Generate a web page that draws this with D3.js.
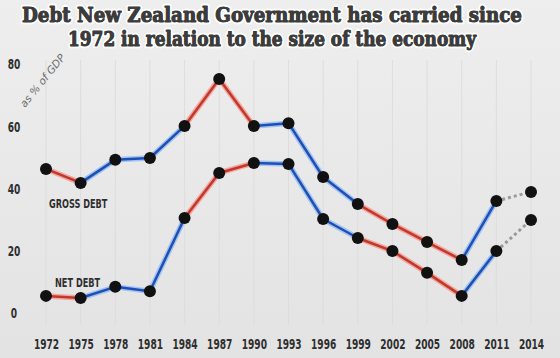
<!DOCTYPE html>
<html><head><meta charset="utf-8">
<script src="https://cdn.jsdelivr.net/npm/d3@7"></script>
<style>
html,body{margin:0;padding:0;background:#e7e7e7;}
svg{display:block;}
.cond{font-family:'DejaVu Sans',sans-serif;font-stretch:condensed;}
</style></head>
<body>
<svg id="c" width="560" height="358"></svg>
<script>
const years = ["1972","1975","1978","1981","1984","1987","1990","1993","1996","1999","2002","2005","2008","2011","2014"];
const grossDebt = [46.3,41.8,49.2,49.8,60.1,75.2,60.1,61.0,43.7,35.0,28.6,22.8,17.0,36.0,38.9];
const netDebt = [5.5,4.8,8.4,7.0,30.5,45.0,48.2,47.9,30.2,24.1,19.9,12.9,5.5,19.9,29.9];
// governing party per segment (start year index -> colour key)
const segmentParty = ["labour","national","national","national","labour","labour","national","national","national","labour","labour","labour","national","forecast"];
const yTicks = [0,20,40,60,80];
const titleLines = ["Debt New Zealand Government has carried since","1972 in relation to the size of the economy"];

const svg = d3.select("#c");
const W = 560, H = 358;
const defs = svg.append("defs");
const grad = defs.append("linearGradient").attr("id","bg").attr("x1",0).attr("y1",0).attr("x2",0).attr("y2",1);
grad.append("stop").attr("offset","0%").attr("stop-color","#eeeeee");
grad.append("stop").attr("offset","100%").attr("stop-color","#e3e3e3");
svg.append("rect").attr("width",W).attr("height",H).attr("fill","url(#bg)");

const x = d3.scalePoint().domain(years).range([46,531]);
const y = d3.scaleLinear().domain([0,80]).range([313,64]);

// faint vertical grid
svg.append("g").selectAll("line").data(years).join("line")
  .attr("x1",d=>x(d)).attr("x2",d=>x(d)).attr("y1",60).attr("y2",325)
  .attr("stroke","#dddddd").attr("stroke-width",1);

const txtCol = "#2e2e2e";

// axes
const yAxis = svg.append("g").attr("transform","translate(14,0)")
  .call(d3.axisLeft(y).tickValues(yTicks).tickSize(0).tickPadding(0));
yAxis.select(".domain").remove();
yAxis.selectAll("text").attr("class","cond").attr("font-size",14).attr("fill",txtCol)
  .attr("font-weight","bold").attr("text-anchor","middle").attr("x",0).attr("y",0).attr("dy","0.35em")
  .attr("transform","scale(0.72,1)");

const xAxis = svg.append("g").attr("transform","translate(0,344)")
  .call(d3.axisBottom(x).tickSize(0).tickPadding(0));
xAxis.select(".domain").remove();
xAxis.selectAll("text").attr("class","cond").attr("font-size",14).attr("fill",txtCol)
  .attr("font-weight","bold").attr("dy","0.35em").attr("y",0).attr("transform","scale(0.72,1)");

const colors = {
  labour:{main:"#c0392b",halo:"#f2a8a2"},
  national:{main:"#1f4fb5",halo:"#a3c4ef"},
  forecast:{main:"#9a9a9a",halo:null}
};

function drawSeries(vals){
  const g = svg.append("g");
  for(let i=0;i<vals.length-1;i++){
    const p = segmentParty[i];
    const c = colors[p];
    const x1 = x(years[i]), y1 = y(vals[i]), x2 = x(years[i+1]), y2 = y(vals[i+1]);
    if(p==="forecast"){
      g.append("line").attr("x1",x1).attr("y1",y1).attr("x2",x2).attr("y2",y2)
        .attr("stroke",c.main).attr("stroke-width",3).attr("stroke-dasharray","3,3");
    } else {
      g.append("line").attr("x1",x1).attr("y1",y1).attr("x2",x2).attr("y2",y2)
        .attr("stroke",c.halo).attr("stroke-width",5.5);
      g.append("line").attr("x1",x1).attr("y1",y1).attr("x2",x2).attr("y2",y2)
        .attr("stroke",c.main).attr("stroke-width",2.5);
    }
  }
  g.selectAll("circle").data(vals).join("circle")
    .attr("cx",(d,i)=>x(years[i])).attr("cy",d=>y(d)).attr("r",6).attr("fill","#111");
}
drawSeries(grossDebt);
drawSeries(netDebt);

// series labels
svg.append("text").attr("class","cond").attr("transform","translate(49,208) scale(0.7,1)").text("GROSS DEBT")
  .attr("font-size",13).attr("font-weight","bold").attr("fill",txtCol);
svg.append("text").attr("class","cond").attr("transform","translate(55,287) scale(0.7,1)").text("NET DEBT")
  .attr("font-size",13).attr("font-weight","bold").attr("fill",txtCol);

// handwritten unit note
svg.append("text").attr("transform","translate(25,108) rotate(-51)").text("as % of GDP")
  .attr("font-family","'DejaVu Sans',sans-serif").attr("font-style","italic").attr("font-size",10.5).attr("fill","#6a6a6a");

// title
const tg = svg.append("g");
titleLines.forEach((t,i)=>{
  const base = {x:272, y:22+i*24};
  tg.append("text").attr("x",base.x).attr("y",base.y).attr("text-anchor","middle").text(t)
    .attr("font-family","'DejaVu Serif',serif").attr("font-weight","bold").attr("font-size",19.5)
    .attr("fill","#3c3c3c").attr("stroke","#ffffff").attr("stroke-width",4.5).attr("paint-order","stroke")
    .attr("stroke-linejoin","round").attr("textLength", i===0?500:408).attr("lengthAdjust","spacingAndGlyphs");
  tg.append("text").attr("x",base.x).attr("y",base.y).attr("text-anchor","middle").text(t)
    .attr("font-family","'DejaVu Serif',serif").attr("font-weight","bold").attr("font-size",19.5)
    .attr("fill","#3c3c3c").attr("stroke","#3c3c3c").attr("stroke-width",0.9)
    .attr("stroke-linejoin","round").attr("textLength", i===0?500:408).attr("lengthAdjust","spacingAndGlyphs");
});
</script>
</body></html>
